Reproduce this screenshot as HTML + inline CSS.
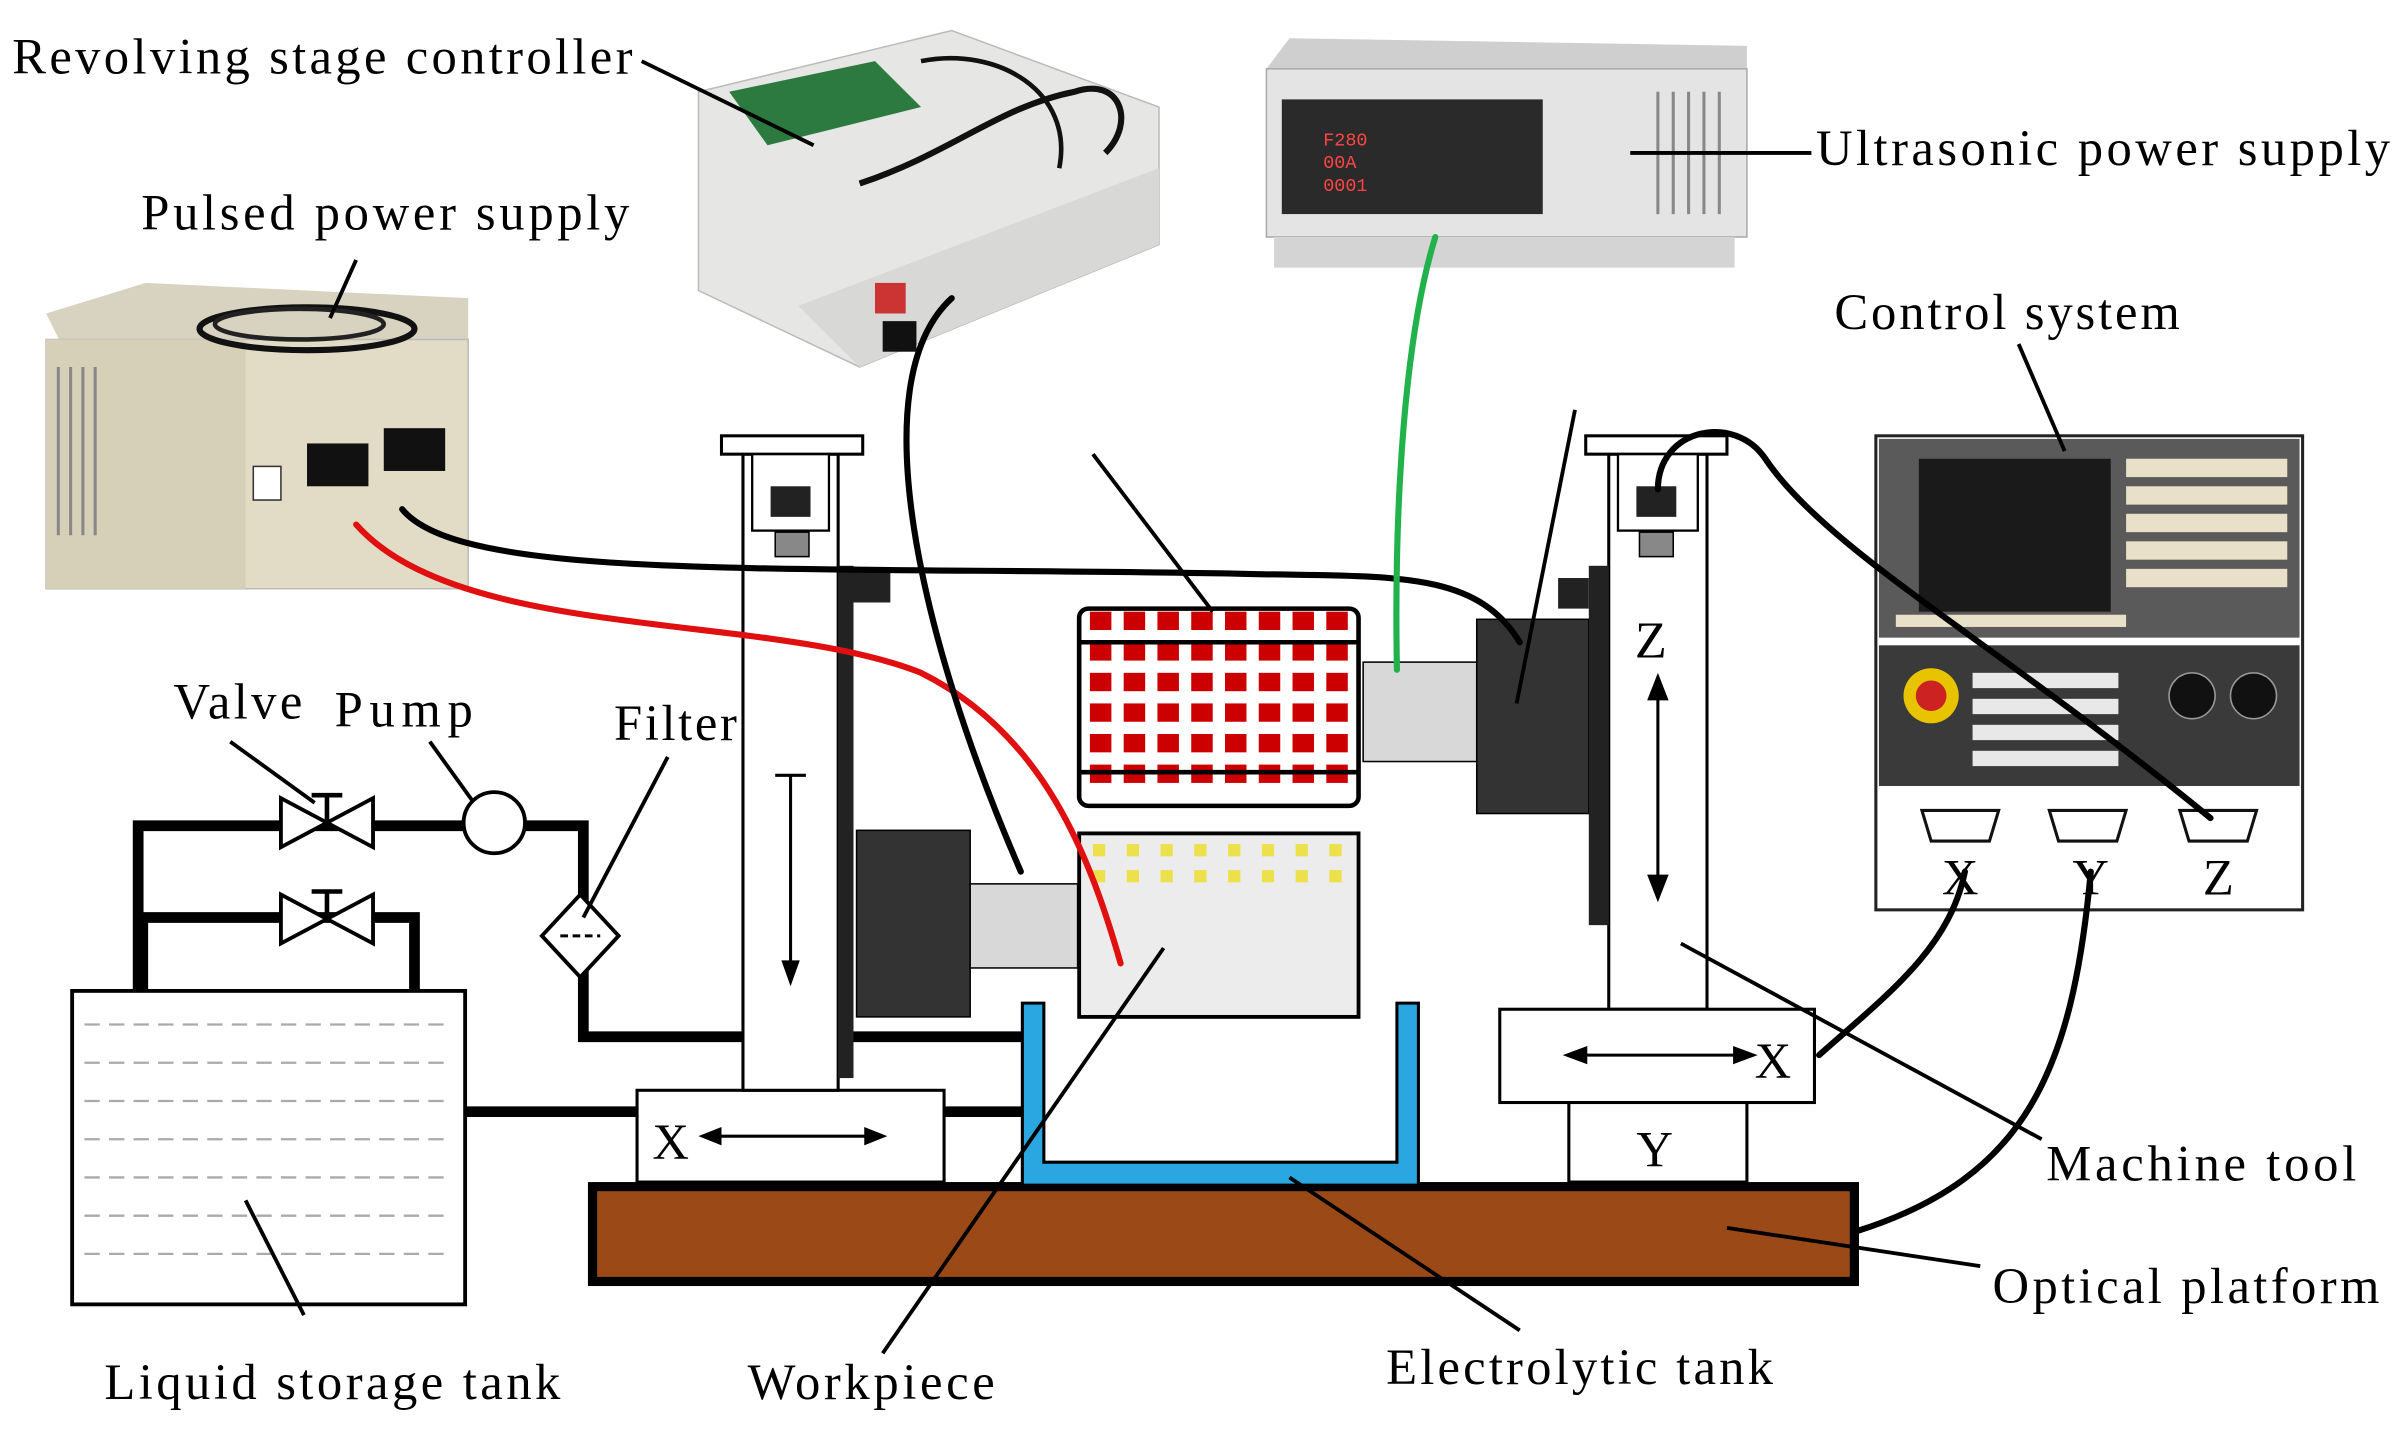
<!DOCTYPE html>
<html><head><meta charset="utf-8"><style>
html,body{margin:0;padding:0;background:#fff;}
svg{display:block}
text{font-family:"Liberation Serif",serif;font-size:33px;fill:#000}
</style></head><body>
<svg width="2407" height="1442" viewBox="0 0 1568 943" preserveAspectRatio="none" xmlns="http://www.w3.org/2000/svg">
<rect width="1568" height="943" fill="#fff"/>

<!-- Pulsed power supply -->
<polygon points="30,205 95,185 305,195 305,240 40,225" fill="#d8d3c0"/>
<rect x="30" y="222" width="275" height="163" fill="#e2dcc6" stroke="#bbb"/>
<rect x="30" y="222" width="130" height="163" fill="#d6d0b8"/>
<g stroke="#888" stroke-width="2">
<line x1="38" y1="240" x2="38" y2="350"/><line x1="46" y1="240" x2="46" y2="350"/><line x1="54" y1="240" x2="54" y2="350"/><line x1="62" y1="240" x2="62" y2="350"/>
</g>
<rect x="200" y="290" width="40" height="28" fill="#111"/><rect x="250" y="280" width="40" height="28" fill="#111"/>
<rect x="165" y="305" width="18" height="22" fill="#fff" stroke="#333"/>
<ellipse cx="200" cy="215" rx="70" ry="14" fill="none" stroke="#111" stroke-width="4"/>
<ellipse cx="195" cy="212" rx="55" ry="10" fill="none" stroke="#222" stroke-width="3"/>

<!-- Revolving stage controller -->
<polygon points="455,60 620,20 755,70 755,160 560,240 455,190" fill="#e6e6e4" stroke="#bbb"/>
<polygon points="520,200 755,110 755,160 560,240" fill="#d8d8d6"/>
<rect x="570" y="185" width="20" height="20" fill="#c33"/>
<rect x="575" y="210" width="22" height="20" fill="#111"/>
<polygon points="475,60 570,40 600,70 500,95" fill="#2c7a3f"/>
<path d="M560,120 C620,100 650,70 700,60 C730,50 740,80 720,100" fill="none" stroke="#111" stroke-width="4"/>
<path d="M600,40 C650,30 700,60 690,110" fill="none" stroke="#111" stroke-width="3"/>

<!-- Ultrasonic power supply -->
<polygon points="825,45 840,25 1138,30 1138,60" fill="#cfcfcf"/>
<rect x="825" y="45" width="313" height="110" fill="#e4e4e4" stroke="#aaa"/>
<rect x="835" y="65" width="170" height="75" fill="#2a2a2a"/>
<text x="862" y="95" style="font-size:12px;fill:#f44;font-family:'Liberation Mono',monospace">F280</text>
<text x="862" y="110" style="font-size:12px;fill:#f44;font-family:'Liberation Mono',monospace">00A</text>
<text x="862" y="125" style="font-size:12px;fill:#f44;font-family:'Liberation Mono',monospace">0001</text>
<g stroke="#888" stroke-width="2"><line x1="1080" y1="60" x2="1080" y2="140"/><line x1="1090" y1="60" x2="1090" y2="140"/><line x1="1100" y1="60" x2="1100" y2="140"/><line x1="1110" y1="60" x2="1110" y2="140"/><line x1="1120" y1="60" x2="1120" y2="140"/></g>
<rect x="830" y="155" width="300" height="20" fill="#d4d4d4"/>

<!-- Control system -->
<rect x="1222" y="285" width="278" height="310" fill="#fff" stroke="#222" stroke-width="2"/>
<rect x="1224" y="287" width="274" height="130" fill="#5a5a5a"/>
<rect x="1250" y="300" width="125" height="100" fill="#1a1a1a"/>
<g fill="#e8e0c8">
<rect x="1385" y="300" width="105" height="12"/><rect x="1385" y="318" width="105" height="12"/><rect x="1385" y="336" width="105" height="12"/><rect x="1385" y="354" width="105" height="12"/><rect x="1385" y="372" width="105" height="12"/><rect x="1235" y="402" width="150" height="8"/>
</g>
<rect x="1224" y="422" width="274" height="92" fill="#3a3a3a"/>
<circle cx="1258" cy="455" r="18" fill="#e8c400"/><circle cx="1258" cy="455" r="10" fill="#c22"/>
<g fill="#e8e8e8"><rect x="1285" y="440" width="95" height="10"/><rect x="1285" y="457" width="95" height="10"/><rect x="1285" y="474" width="95" height="10"/><rect x="1285" y="491" width="95" height="10"/></g>
<circle cx="1428" cy="455" r="15" fill="#111" stroke="#999"/><circle cx="1468" cy="455" r="15" fill="#111" stroke="#999"/>
<g fill="#fff" stroke="#111" stroke-width="2">
<path d="M1252,530 h50 l-6,20 h-38 z"/><path d="M1335,530 h50 l-6,20 h-38 z"/><path d="M1420,530 h50 l-6,20 h-38 z"/>
</g>
<text x="1265" y="585">X</text><text x="1350" y="585">Y</text><text x="1435" y="585">Z</text>

<!-- Optical platform -->
<rect x="386" y="776" width="822" height="62" fill="#9b4a17" stroke="#000" stroke-width="6"/>

<!-- Liquid storage tank -->
<rect x="47" y="648" width="256" height="205" fill="#fff" stroke="#000" stroke-width="2.5"/>
<g stroke="#aaa" stroke-width="1.5" stroke-dasharray="10,6">
<line x1="55" y1="670" x2="295" y2="670"/><line x1="55" y1="695" x2="295" y2="695"/><line x1="55" y1="720" x2="295" y2="720"/><line x1="55" y1="745" x2="295" y2="745"/><line x1="55" y1="770" x2="295" y2="770"/><line x1="55" y1="795" x2="295" y2="795"/><line x1="55" y1="820" x2="295" y2="820"/>
</g>

<!-- Pipes -->
<g fill="none" stroke="#000" stroke-width="7">
<polyline points="90,648 90,540 380,540 380,678 680,678"/>
<polyline points="93,648 93,600 270,600 270,648"/>
<line x1="303" y1="727" x2="680" y2="727"/>
</g>
<g fill="#fff" stroke="#000" stroke-width="2.5">
<polygon points="183,522 183,554 243,522 243,554"/>
<polygon points="183,585 183,617 243,585 243,617"/>
<circle cx="322" cy="538" r="20"/>
<polygon points="378,585 403,612 378,639 353,612"/>
</g>
<line x1="213" y1="537" x2="213" y2="520" stroke="#000" stroke-width="3"/><line x1="203" y1="520" x2="223" y2="520" stroke="#000" stroke-width="3"/>
<line x1="213" y1="600" x2="213" y2="583" stroke="#000" stroke-width="3"/><line x1="203" y1="583" x2="223" y2="583" stroke="#000" stroke-width="3"/>
<line x1="365" y1="612" x2="391" y2="612" stroke="#000" stroke-width="2" stroke-dasharray="5,3"/>

<!-- Left stage -->
<rect x="415" y="713" width="200" height="60" fill="#fff" stroke="#000" stroke-width="2"/>
<text x="425" y="758">X</text>
<line x1="458" y1="743" x2="575" y2="743" stroke="#000" stroke-width="2"/>
<polygon points="455,743 470,737 470,749"/><polygon points="578,743 563,737 563,749"/>
<rect x="484" y="297" width="62" height="416" fill="#fff" stroke="#000" stroke-width="2"/>
<rect x="470" y="285" width="92" height="12" fill="#fff" stroke="#000" stroke-width="2"/>
<rect x="490" y="297" width="50" height="50" fill="#fff" stroke="#000" stroke-width="1.5"/>
<rect x="502" y="318" width="26" height="20" fill="#222"/>
<rect x="505" y="348" width="22" height="16" fill="#888" stroke="#000"/>
<rect x="546" y="370" width="10" height="335" fill="#222"/>
<rect x="556" y="372" width="24" height="22" fill="#222"/>
<line x1="515" y1="507" x2="515" y2="640" stroke="#000" stroke-width="2"/><line x1="505" y1="507" x2="525" y2="507" stroke="#000" stroke-width="2"/>
<polygon points="515,645 509,628 521,628"/>
<rect x="558" y="543" width="74" height="122" fill="#333" stroke="#000"/>
<rect x="632" y="578" width="70" height="55" fill="#d8d8d8" stroke="#000"/>

<!-- Workpiece -->
<rect x="703" y="545" width="182" height="120" fill="#ececec" stroke="#000" stroke-width="2.5"/>
<g fill="#ece14a">
<rect x="712" y="552" width="8" height="8"/><rect x="734" y="552" width="8" height="8"/><rect x="756" y="552" width="8" height="8"/><rect x="778" y="552" width="8" height="8"/><rect x="800" y="552" width="8" height="8"/><rect x="822" y="552" width="8" height="8"/><rect x="844" y="552" width="8" height="8"/><rect x="866" y="552" width="8" height="8"/>
<rect x="712" y="569" width="8" height="8"/><rect x="734" y="569" width="8" height="8"/><rect x="756" y="569" width="8" height="8"/><rect x="778" y="569" width="8" height="8"/><rect x="800" y="569" width="8" height="8"/><rect x="822" y="569" width="8" height="8"/><rect x="844" y="569" width="8" height="8"/><rect x="866" y="569" width="8" height="8"/>
</g>
<rect x="703" y="398" width="182" height="129" rx="6" fill="#fff" stroke="#000" stroke-width="3"/>
<g id="row">
<rect x="710" y="400" width="14" height="12" fill="#c00"/><rect x="732" y="400" width="14" height="12" fill="#c00"/><rect x="754" y="400" width="14" height="12" fill="#c00"/><rect x="776" y="400" width="14" height="12" fill="#c00"/><rect x="798" y="400" width="14" height="12" fill="#c00"/><rect x="820" y="400" width="14" height="12" fill="#c00"/><rect x="842" y="400" width="14" height="12" fill="#c00"/><rect x="864" y="400" width="14" height="12" fill="#c00"/>
</g>
<use href="#row" y="20"/><use href="#row" y="40"/><use href="#row" y="60"/><use href="#row" y="80"/><use href="#row" y="100"/>
<g stroke="#000" stroke-width="3" fill="none">
<line x1="703" y1="420" x2="885" y2="420"/><line x1="703" y1="505" x2="885" y2="505"/>
</g>

<!-- Right side -->
<rect x="888" y="433" width="74" height="65" fill="#d8d8d8" stroke="#000"/>
<rect x="962" y="405" width="73" height="127" fill="#333" stroke="#000"/>
<rect x="1048" y="297" width="64" height="363" fill="#fff" stroke="#000" stroke-width="2"/>
<rect x="1033" y="285" width="92" height="12" fill="#fff" stroke="#000" stroke-width="2"/>
<rect x="1054" y="297" width="52" height="50" fill="#fff" stroke="#000" stroke-width="1.5"/>
<rect x="1066" y="318" width="26" height="20" fill="#222"/>
<rect x="1068" y="348" width="22" height="16" fill="#888" stroke="#000"/>
<rect x="1035" y="370" width="13" height="235" fill="#222"/>
<rect x="1015" y="378" width="20" height="20" fill="#222"/>
<text x="1065" y="430" style="font-size:34px">Z</text>
<line x1="1080" y1="450" x2="1080" y2="580" stroke="#000" stroke-width="2"/>
<polygon points="1080,440 1073,458 1087,458"/><polygon points="1080,590 1073,572 1087,572"/>
<rect x="977" y="660" width="205" height="61" fill="#fff" stroke="#000" stroke-width="2"/>
<line x1="1025" y1="690" x2="1138" y2="690" stroke="#000" stroke-width="2"/>
<polygon points="1018,690 1034,684 1034,696"/><polygon points="1145,690 1129,684 1129,696"/>
<text x="1143" y="705">X</text>
<rect x="1022" y="721" width="116" height="52" fill="#fff" stroke="#000" stroke-width="2"/>
<text x="1066" y="763">Y</text>

<!-- Electrolytic tank -->
<path d="M666,656 h14 v104 h230 v-104 h14 v119 h-258 z" fill="#2aa7e0" stroke="#000" stroke-width="2"/>

<!-- Cables -->
<g fill="none" stroke-width="4" stroke-linecap="round">
<path d="M232,343 C300,420 500,400 600,440 C680,480 710,560 730,630" stroke="#e01010"/>
<path d="M262,333 C300,380 500,370 800,375 C900,378 960,370 990,420" stroke="#000"/>
<path d="M620,195 C560,250 600,420 665,570" stroke="#000"/>
<path d="M935,155 C915,220 908,330 910,438" stroke="#22b24c"/>
<path d="M1080,320 C1080,280 1130,270 1150,300 C1190,360 1300,420 1440,535" stroke="#000"/>
<path d="M1185,690 C1230,650 1270,620 1280,570" stroke="#000"/>
<path d="M1210,805 C1320,770 1350,700 1362,570" stroke="#000"/>
</g>

<!-- Leader lines -->
<g stroke="#000" stroke-width="2.5" fill="none">
<line x1="418" y1="40" x2="530" y2="95"/>
<line x1="1180" y1="100" x2="1062" y2="100"/>
<line x1="232" y1="170" x2="215" y2="208"/>
<line x1="1315" y1="225" x2="1345" y2="295"/>
<line x1="150" y1="485" x2="205" y2="525"/>
<line x1="280" y1="485" x2="308" y2="524"/>
<line x1="435" y1="495" x2="380" y2="600"/>
<line x1="712" y1="297" x2="790" y2="400"/>
<line x1="1026" y1="268" x2="988" y2="460"/>
<line x1="1095" y1="617" x2="1330" y2="745"/>
<line x1="160" y1="785" x2="198" y2="860"/>
<line x1="758" y1="620" x2="575" y2="885"/>
<line x1="840" y1="770" x2="990" y2="870"/>
<line x1="1125" y1="803" x2="1290" y2="828"/>
</g>

<!-- Labels -->
<text x="8" y="48" textLength="404" lengthAdjust="spacing">Revolving stage controller</text>
<text x="1183" y="108" textLength="374" lengthAdjust="spacing">Ultrasonic power supply</text>
<text x="92" y="150" textLength="318" lengthAdjust="spacing">Pulsed power supply</text>
<text x="1195" y="215" textLength="225" lengthAdjust="spacing">Control system</text>
<text x="113" y="470" textLength="84" lengthAdjust="spacing">Valve</text>
<text x="218" y="475" textLength="90" lengthAdjust="spacing">Pump</text>
<text x="400" y="484" textLength="80" lengthAdjust="spacing">Filter</text>
<text x="1333" y="772" textLength="202" lengthAdjust="spacing">Machine tool</text>
<text x="1298" y="852" textLength="252" lengthAdjust="spacing">Optical platform</text>
<text x="68" y="915" textLength="297" lengthAdjust="spacing">Liquid storage tank</text>
<text x="487" y="915" textLength="161" lengthAdjust="spacing">Workpiece</text>
<text x="903" y="905" textLength="252" lengthAdjust="spacing">Electrolytic tank</text>
</svg>
</body></html>
